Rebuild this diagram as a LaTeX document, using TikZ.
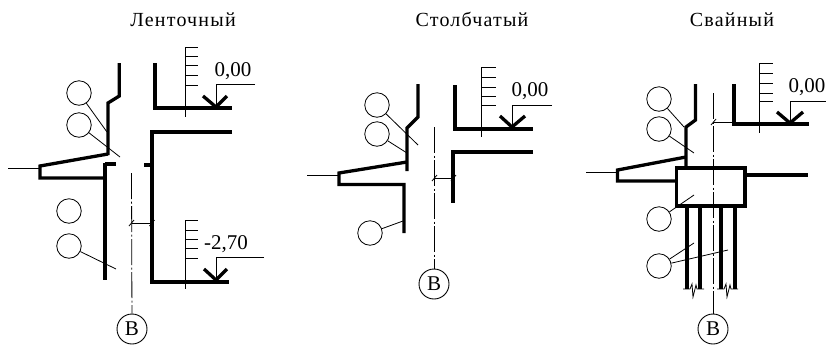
\documentclass[tikz,border=0pt]{standalone}
\usepackage{fontspec}
\setmainfont{Liberation Serif}
\tikzset{
  x=1pt,y=-1pt,
  thick line/.style={line width=3.3pt,line cap=butt,line join=miter},
  thin line/.style={line width=0.8pt},
  scale line/.style={line width=0.8pt},
  axis line/.style={line width=0.8pt,dash pattern=on 26pt off 2.5pt on 2pt off 2.5pt},
  ring/.style={draw,circle,line width=0.8pt,minimum size=24.5pt,inner sep=0pt},
  axis ring/.style={draw,circle,line width=0.9pt,minimum size=30pt,inner sep=0pt,font=\fontsize{21}{21}\selectfont},
  title/.style={font=\fontsize{20}{20}\selectfont\addfontfeature{LetterSpace=6}},
  level/.style={font=\fontsize{21}{21}\selectfont,inner sep=0pt},
}
\begin{document}
\begin{tikzpicture}
\useasboundingbox (0,0) rectangle (826,349);
% ---------- Lentochny
\node[title] (t1) at (183,20) {Ленточный};
\node[ring] (a1) at (79,93) {};
\node[ring] (a2) at (79,125) {};
\node[ring] (a3) at (69,211) {};
\node[ring] (a4) at (69,246) {};
\node[axis ring] (ab) at (132,329) {B};
\draw[thick line] (119.3,63) -- (119.3,96) -- (108,103) -- (108,155);
\draw[thick line] (108,154) -- (40,166) -- (40,178) -- (105,178);
\draw[thick line] (105,163) -- (105,280);
\draw[thick line] (105,164) -- (116,164);
\draw[thin line] (8,168.5) -- (40,168.5);
\draw[thick line] (155,63) -- (155,108) -- (232,108);
\draw[thick line] (232,132) -- (152,132) -- (152,282) -- (229,282);
\draw[thick line] (144,165) -- (152,165);
\draw[scale line] (185,47) -- (185,117);
\foreach \y in {47,56,65,75,85} \draw[scale line] (185,\y) -- (198,\y);
\draw[scale line] (185,220) -- (185,289);
\foreach \y in {220,230,239,248,258} \draw[scale line] (185,\y) -- (198,\y);
\node[level] (l1) at (233,71) {0,00};
\draw[thin line] (255,84) -- (216,84) -- (216,107);
\draw[thick line] (203,96) -- (216,107) -- (227,96);
\node[level] (l2) at (226,244) {-2,70};
\draw[thin line] (264,257) -- (216,257) -- (216,280);
\draw[thick line] (204,269) -- (216,280) -- (227,269);
\coordinate (ax1) at (131.5,173);
\draw[axis line] (ax1) -- (ab);
\draw[thin line] (131.5,223) -- (152,223);
\draw[thin line] (129,226) -- (134,220) (149.5,226) -- (154.5,220);
\draw[thin line] (a1) -- (107,132);
\draw[thin line] (a2) -- (120,157);
\draw[thin line] (a4) -- (116,269);
% ---------- Stolbchaty
\node[title] (t2) at (472,19) {Столбчатый};
\node[ring] (b1) at (377,105) {};
\node[ring] (b2) at (377,134) {};
\node[ring] (b3) at (370,233) {};
\node[axis ring] (bb) at (434,284) {B};
\draw[thick line] (418,84) -- (418,117) -- (407,128) -- (407,171);
\draw[thick line] (407,162) -- (339,173) -- (339,184.5) -- (404,184.5) -- (404,233);
\draw[thin line] (307,175.5) -- (339,175.5);
\draw[thick line] (455,85) -- (455,129) -- (533,129);
\draw[thick line] (533,152) -- (453,152) -- (453,203);
\draw[scale line] (481,67) -- (481,137);
\foreach \y in {67,77,87,96,105} \draw[scale line] (481,\y) -- (496,\y);
\node[level] (l3) at (530,91) {0,00};
\draw[thin line] (552,105) -- (512,105) -- (512,128);
\draw[thick line] (500,116) -- (512,127) -- (525,116);
\coordinate (ax2) at (434,127);
\draw[axis line] (ax2) -- (bb);
\draw[thin line] (434,178) -- (453,178);
\draw[thin line] (432,181) -- (437,175) (451,181) -- (456,175);
\draw[thin line] (b1) -- (418,145);
\draw[thin line] (b2) -- (407,153);
\draw[thin line] (b3) -- (403,221);
% ---------- Svayny
\node[title] (t3) at (732,20) {Свайный};
\node[ring] (c1) at (659,99) {};
\node[ring] (c2) at (659,129) {};
\node[ring] (c3) at (659,219) {};
\node[ring] (c4) at (659,266) {};
\node[axis ring] (cb) at (713,329) {B};
\draw[thick line] (695.5,84) -- (695.5,120) -- (686,127) -- (686,169);
\draw[thick line] (686,157) -- (617.5,170) -- (617.5,181) -- (677,181);
\draw[thin line] (586,172.5) -- (617,172.5);
\draw[thick line] (676.5,168) rectangle (745,206);
\draw[thick line] (745,175) -- (808,175);
\draw[thick line] (734,84) -- (734,124) -- (809,124);
\draw[scale line] (759.5,63) -- (759.5,133);
\foreach \y in {63,73,83,93,101} \draw[scale line] (759.5,\y) -- (773,\y);
\node[level] (l4) at (807,87) {0,00};
\draw[thin line] (826,101) -- (790,101) -- (790,122);
\draw[thick line] (777,112) -- (790,123) -- (803,112);
\coordinate (ax3) at (713,93);
\draw[axis line] (ax3) -- (cb);
\draw[thin line] (713,122) -- (734,122);
\draw[thin line] (711,125) -- (716,119);
\draw[thick line] (687,206) -- (687,289) (700,206) -- (700,289) (721,206) -- (721,289) (735,206) -- (735,289);
\draw[thin line] (683,289) -- (690,289) -- (692,284) -- (693,297) -- (696,285) -- (697,289) -- (704,289);
\draw[thin line] (717,289) -- (724,289) -- (726,284) -- (727,297) -- (730,285) -- (731,289) -- (738,289);
\draw[thin line] (c1) -- (684,127);
\draw[thin line] (c2) -- (694,153);
\draw[thin line] (c3) -- (694,195);
\draw[thin line] (c4) -- (694,243);
\draw[thin line] (c4) -- (728,250);
\end{tikzpicture}
\end{document}
